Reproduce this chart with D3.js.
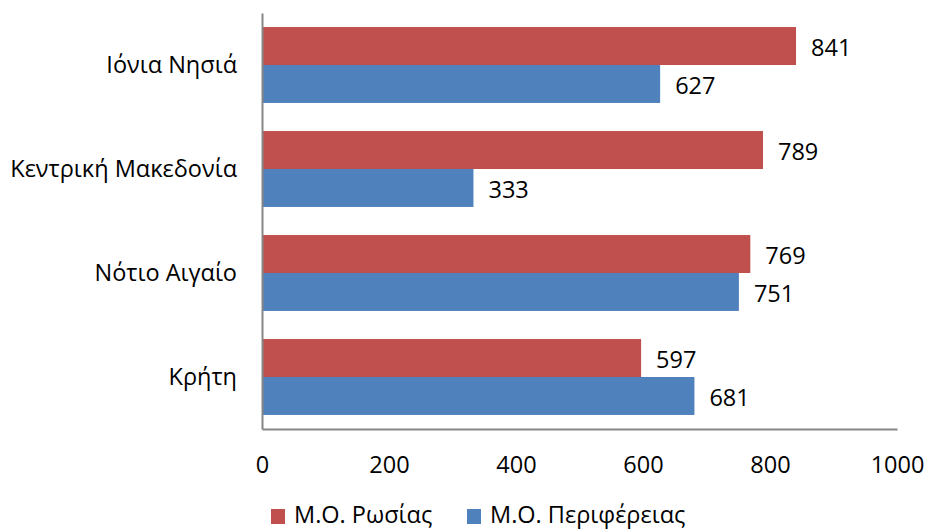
<!DOCTYPE html>
<html><head><meta charset="utf-8">
<script src="https://cdn.jsdelivr.net/npm/d3@7"></script>
<style>body{margin:0;background:#fff}svg{display:block}text{font-family:"Open Sans","Noto Sans",sans-serif;fill:#000}</style>
</head><body><svg id="c" width="928" height="530"></svg>
<script>
const categories = ["Ιόνια Νησιά","Κεντρική Μακεδονία","Νότιο Αιγαίο","Κρήτη"];
const seriesNames = ["Μ.Ο. Ρωσίας","Μ.Ο. Περιφέρειας"];
const russia = [841, 789, 769, 597];
const region = [627, 333, 751, 681];
const xTicks = [0, 200, 400, 600, 800, 1000];
const colors = ["#C0504D", "#4F81BD"];

(function(){
const svg = d3.select("#c");
const mLeft = 262, mRight = 897, mTop = 13, mBottom = 429;
const fs = 23.5;
const x = d3.scaleLinear().domain([0, 1000]).range([mLeft, mRight]);
const y = d3.scaleBand().domain(categories).range([mTop, mBottom]).paddingInner(0.27).paddingOuter(0.135);
const y1 = d3.scaleBand().domain(seriesNames).range([0, y.bandwidth()]);
const series = [russia, region];

const g = svg.append("g");
categories.forEach((c, i) => {
  series.forEach((vals, s) => {
    const yy = y(c) + y1(seriesNames[s]);
    g.append("rect").attr("x", x(0)).attr("y", yy).attr("width", x(vals[i]) - x(0)).attr("height", y1.bandwidth()).attr("fill", colors[s]);
    g.append("text").attr("x", x(vals[i]) + 15).attr("y", yy + y1.bandwidth()/2 + 2).attr("dy", "0.36em").attr("font-size", fs).text(vals[i]);
  });
});

const ya = svg.append("g").attr("transform", `translate(${mLeft},0)`).call(d3.axisLeft(y).tickSize(0).tickPadding(25));
ya.select(".domain").attr("stroke", "#868686").attr("stroke-width", 2);
ya.selectAll("text").attr("font-size", fs).attr("font-family", "Open Sans, Noto Sans, sans-serif").attr("fill", "#000");

const xa = svg.append("g").attr("transform", `translate(0,${mBottom})`).call(d3.axisBottom(x).tickValues(xTicks).tickSize(0).tickPadding(27).tickFormat(d3.format("d")));
xa.select(".domain").attr("stroke", "#868686").attr("stroke-width", 2);
xa.selectAll("text").attr("font-size", fs).attr("font-family", "Open Sans, Noto Sans, sans-serif").attr("fill", "#000");

const lx = [271, 467];
seriesNames.forEach((n, i) => {
  svg.append("rect").attr("x", lx[i]).attr("y", 509).attr("width", 14).attr("height", 15).attr("fill", colors[i]);
  svg.append("text").attr("x", lx[i] + 23).attr("y", 523).attr("font-size", fs).text(n);
});
})();
</script></body></html>
